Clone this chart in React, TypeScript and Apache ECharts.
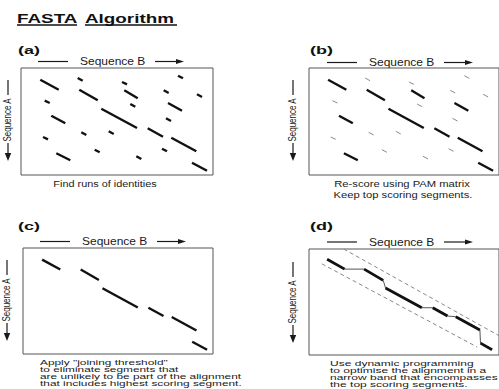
import React, { useEffect, useRef } from "react";
import * as echarts from "echarts";

// ---- Data (units: positions along Sequence B (x) and Sequence A (y)) ----
const SEQ_B_LEN = 192;
const SEQ_A_LEN = 107;

// runs of identities found in the dot plot: [bStart, aStart, bEnd, aEnd]
const SEGMENTS: [number, number, number, number][] = [
  [19.3, 11.7, 37.7, 21.7],
  [56.7, 10, 61.7, 12.7],
  [101, 14, 106, 16.3],
  [157, 7.7, 162, 10.3],
  [58.3, 21.7, 76.7, 32.3],
  [103.3, 22.3, 116.7, 30.3],
  [142.7, 22.3, 147.7, 25],
  [176, 26.3, 181, 29],
  [23.7, 32.7, 28.7, 35],
  [109.3, 36, 114.3, 38.7],
  [147, 35, 161, 42.7],
  [80.3, 40.7, 116, 60],
  [30.3, 47.7, 44.3, 55.3],
  [145, 50.3, 150, 53],
  [60.3, 64.3, 65.3, 67],
  [87.7, 63.3, 92.7, 66],
  [126.7, 60.3, 142, 68.7],
  [22, 69, 27, 71.3],
  [150.3, 69.7, 175.3, 83.3],
  [73.7, 81.7, 78.7, 84.3],
  [141, 80.7, 146, 83.3],
  [35.3, 85.3, 49.3, 92.3],
  [115.3, 88.3, 120.3, 91],
  [171, 94.7, 186, 102.7],
];

// indices of segments kept after PAM re-scoring
const TOP_SCORING = [0, 4, 5, 10, 11, 12, 16, 18, 21, 23];
// indices of segments kept after the joining threshold
const JOINED = [0, 4, 11, 16, 18, 23];

// dynamic-programming alignment path
const DP_B = [18.3, 36, 55.7, 75, 77.3, 114, 125, 140, 148.3, 172.7, 173.3, 185];
const DP_A = [10.3, 20.3, 20.3, 31.7, 39.3, 59.3, 59.3, 67.7, 68.3, 81.7, 95, 101.7];
const DP_STEP = ["match", "gap", "match", "gap", "match", "gap", "match", "gap", "match", "gap", "match"];

// band limits
const BAND_UPPER: [number, number][] = [[35, 0], [192, 87.5]];
const BAND_LOWER: [number, number][] = [[13, 15], [170, 99]];

// ---- Texts ----
const TITLE_WORDS = ["FASTA", "Algorithm"];
const PANEL_LABELS = ["(a)", "(b)", "(c)", "(d)"];
const AXIS_B = "Sequence B";
const AXIS_A = "Sequence A";
const CAPTIONS: string[][] = [
  ["Find runs of identities"],
  ["Re-score using PAM matrix", "Keep top scoring segments."],
  [
    "Apply \"joining threshold\"",
    "to eliminate segments that",
    "are unlikely to be part of the alignment",
    "that includes highest scoring segment.",
  ],
  [
    "Use dynamic programming",
    "to optimise the alignment in a",
    "narrow band that encompasses",
    "the top scoring segments.",
  ],
];

const FONT = "'Liberation Sans', Arial, Helvetica, sans-serif";
const INK = "#1a1a1a";

type Panel = { left: number; top: number; width: number; height: number };
const PANELS: Panel[] = [
  { left: 21, top: 68, width: 192, height: 107 },
  { left: 309, top: 68, width: 192, height: 107 },
  { left: 23, top: 248, width: 190, height: 106 },
  { left: 309, top: 249, width: 192, height: 106 },
];

function txt(
  text: string,
  x: number,
  y: number,
  size: number,
  sx: number,
  sy: number,
  opts: any = {}
) {
  return {
    type: "text",
    x,
    y,
    scaleX: sx,
    scaleY: sy,
    rotation: opts.rotation || 0,
    silent: true,
    style: {
      text,
      fill: opts.fill || INK,
      fontSize: size,
      fontFamily: FONT,
      fontWeight: opts.bold ? "bold" : "normal",
      align: opts.align || "left",
      verticalAlign: "middle",
      textAlign: opts.align || "left",
      textVerticalAlign: "middle",
    },
  };
}

function seg(x1: number, y1: number, x2: number, y2: number, w = 1.2, color = INK) {
  return {
    type: "line",
    silent: true,
    shape: { x1, y1, x2, y2 },
    style: { stroke: color, lineWidth: w },
  };
}

function poly(points: number[][], color = INK) {
  return { type: "polygon", silent: true, shape: { points }, style: { fill: color } };
}

function seqBLabel(x0: number, y: number) {
  return [
    seg(x0, y, x0 + 30, y),
    txt(AXIS_B, x0 + 42, y, 10, 1.2, 1),
    seg(x0 + 117, y, x0 + 140, y),
    poly([[x0 + 138, y - 2.6], [x0 + 146, y], [x0 + 138, y + 2.6]]),
  ];
}

function seqALabel(x: number, y0: number) {
  return [
    seg(x, y0, x, y0 + 15),
    txt(AXIS_A, x, y0 + 40, 10, 0.8, 1.05, { rotation: Math.PI / 2, align: "center" }),
    seg(x, y0 + 63, x, y0 + 75),
    poly([[x - 3.2, y0 + 73], [x, y0 + 81], [x + 3.2, y0 + 73]]),
  ];
}

function linesSeries(idx: number, coords: [number, number][][], color: string, width: number, type: any = "solid") {
  return {
    type: "lines",
    coordinateSystem: "cartesian2d",
    xAxisIndex: idx,
    yAxisIndex: idx,
    polyline: true,
    silent: true,
    symbol: ["none", "none"],
    lineStyle: { color, width, opacity: 1, type, curveness: 0 },
    data: coords.map((c) => ({ coords: c })),
  };
}

function segCoords(ids: number[]): [number, number][][] {
  return ids.map((i) => {
    const s = SEGMENTS[i];
    return [[s[0], s[1]], [s[2], s[3]]];
  });
}

export default function App() {
  const ref = useRef<HTMLDivElement>(null);
  useEffect(() => {
    if (!ref.current) return;
    const chart = echarts.init(ref.current, null, { renderer: "svg", width: 499, height: 389 });

    const allIds = SEGMENTS.map((_, i) => i);
    const lowIds = allIds.filter((i) => TOP_SCORING.indexOf(i) < 0);
    const dpMatch: [number, number][][] = [];
    const dpGap: [number, number][][] = [];
    DP_STEP.forEach((s, i) => {
      const c: [number, number][] = [[DP_B[i], DP_A[i]], [DP_B[i + 1], DP_A[i + 1]]];
      (s === "match" ? dpMatch : dpGap).push(c);
    });

    const graphics: any[] = [];
    // title
    graphics.push(txt(TITLE_WORDS[0], 17, 18, 13, 1.45, 1, { bold: true, fill: "#111" }));
    graphics.push(txt(TITLE_WORDS[1], 85, 18, 13, 1.45, 1, { bold: true, fill: "#111" }));
    graphics.push(seg(17, 25, 77, 25, 1.4, "#111"));
    graphics.push(seg(85, 25, 177, 25, 1.4, "#111"));

    // panel labels
    const labelPos = [[18, 50.5], [310, 50.5], [18, 227], [310, 227]];
    PANEL_LABELS.forEach((l, i) =>
      graphics.push(txt(l, labelPos[i][0], labelPos[i][1], 10, 1.8, 1, { bold: true, fill: "#111" }))
    );

    // axis labels
    graphics.push(...seqBLabel(38, 61.5));
    graphics.push(...seqBLabel(327, 62.5));
    graphics.push(...seqBLabel(40, 241.5));
    graphics.push(...seqBLabel(327, 242));
    graphics.push(...seqALabel(8, 80));
    graphics.push(...seqALabel(293, 80));
    graphics.push(...seqALabel(7, 260));
    graphics.push(...seqALabel(293, 262));

    // captions
    graphics.push(txt(CAPTIONS[0][0], 105, 184, 8.5, 1.28, 1, { align: "center" }));
    graphics.push(txt(CAPTIONS[1][0], 402, 184, 8.5, 1.32, 1, { align: "center" }));
    graphics.push(txt(CAPTIONS[1][1], 403, 195, 8.5, 1.32, 1, { align: "center" }));
    const cY = [362, 369.5, 376.5, 383.5];
    CAPTIONS[2].forEach((l, i) => graphics.push(txt(l, 40, cY[i], 8.3, 1.43, 0.9)));
    const dY = [363, 370.5, 377.5, 384];
    CAPTIONS[3].forEach((l, i) => graphics.push(txt(l, 330, dY[i], 8.3, 1.45, 0.9)));

    const option: any = {
      animation: false,
      backgroundColor: "#ffffff",
      grid: PANELS.map((p) => ({
        left: p.left,
        top: p.top,
        width: p.width,
        height: p.height,
        show: true,
        borderColor: "#555",
        borderWidth: 1,
        backgroundColor: "#fff",
      })),
      xAxis: PANELS.map((_, i) => ({
        type: "value",
        gridIndex: i,
        min: 0,
        max: SEQ_B_LEN,
        show: false,
      })),
      yAxis: PANELS.map((_, i) => ({
        type: "value",
        gridIndex: i,
        min: 0,
        max: SEQ_A_LEN,
        inverse: true,
        show: false,
      })),
      series: [
        linesSeries(0, segCoords(allIds), "#111", 2.4),
        linesSeries(1, segCoords(lowIds), "#8a8a8a", 1),
        linesSeries(1, segCoords(TOP_SCORING), "#111", 2.4),
        linesSeries(2, segCoords(JOINED), "#111", 2.4),
        linesSeries(3, [BAND_UPPER, BAND_LOWER], "#888", 1, [4, 3]),
        linesSeries(3, dpGap, "#555", 1),
        linesSeries(3, dpMatch, "#111", 2.8),
      ],
      graphic: { elements: graphics },
    };
    chart.setOption(option);
    return () => chart.dispose();
  }, []);
  return (
    <div
      ref={ref}
      style={{ position: "fixed", left: 0, top: 0, width: 499, height: 389, background: "#fff" }}
    />
  );
}
